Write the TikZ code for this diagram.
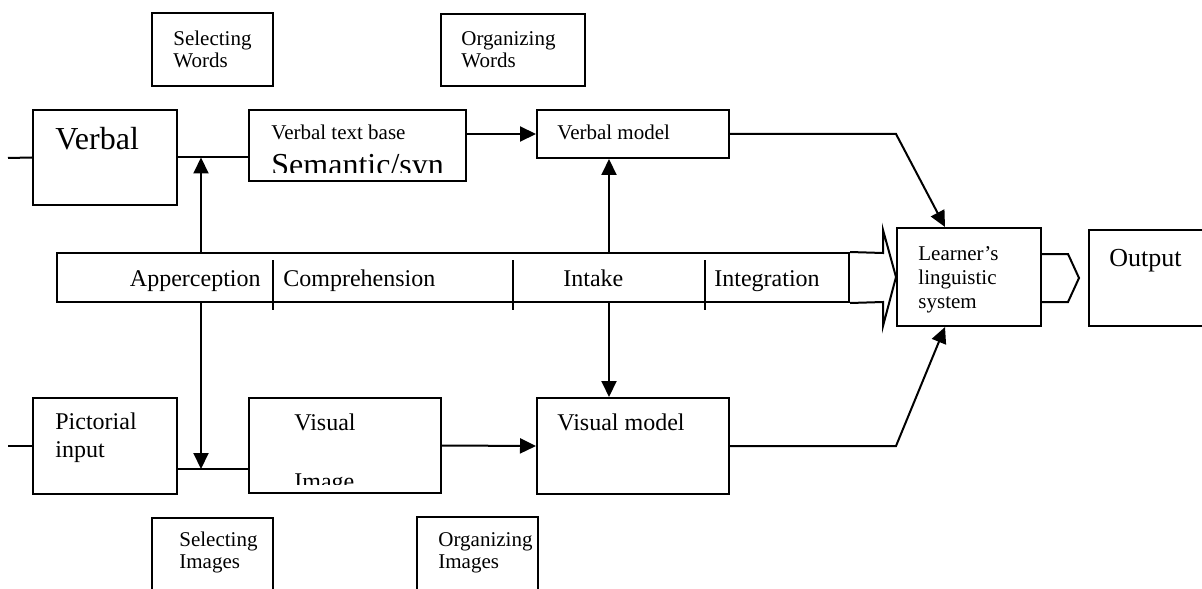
\documentclass[tikz,border=0pt]{standalone}
\usepackage{fontspec}
\setmainfont{Liberation Serif}
\usetikzlibrary{arrows.meta,fit}
\tikzset{
  cbox/.style={draw,line width=1pt,inner sep=0pt},
  ctext/.style={anchor=base west,inner sep=0pt,align=left,font=\fontsize{12}{13.8}\selectfont},
  csmall/.style={ctext,font=\fontsize{10.5}{11}\selectfont},
  cbig/.style={ctext,font=\fontsize{16}{18}\selectfont},
  cline/.style={line width=1pt},
  carrow/.style={cline,-{Triangle[length=8pt,width=7.5pt]}}
}

\begin{document}
\begin{tikzpicture}[x=0.5pt,y=-0.5pt]
  \useasboundingbox (0,0) rectangle (1202,588);
  % boxes
  \node[cbox,fit={(152,13) (273,86)}] (selw) {};
  \node[cbox,fit={(441,14) (585,86)}] (orgw) {};
  \node[cbox,fit={(33,110) (177,205)}] (verbal) {};
  \node[cbox,fit={(249,110) (466,181)}] (vbase) {};
  \node[cbox,fit={(537,110) (729,158)}] (vmodel) {};
  \node[cbox,fit={(57,253) (849,302)}] (strip) {};
  \node[cbox,fit={(897,228) (1041,326)}] (learner) {};
  \node[cbox,fit={(1089,230) (1215,326)}] (output) {};
  \node[cbox,fit={(33,398) (177,494)}] (pict) {};
  \node[cbox,fit={(249,398) (441,493)}] (vimage) {};
  \node[cbox,fit={(537,398) (729,494)}] (smodel) {};
  \node[cbox,fit={(152,518) (273,600)}] (seli) {};
  \node[cbox,fit={(417,517) (538,600)}] (orgi) {};
  % texts (multi-line: base is the last line)
  \node[csmall] (selwt) at (173,68) {Selecting\\Words};
  \node[csmall] (orgwt) at (461,68) {Organizing\\Words};
  \node[cbig] (verbalt) at (55,150) {Verbal};
  \node[csmall] (vbaset) at (271,140) {Verbal text base};
  \begin{scope}
    \clip (249,110) rectangle (466,173);
    \node[cbig] (semt) at (271,176) {Semantic/syn};
  \end{scope}
  \node[csmall] (vmodelt) at (557,140) {Verbal model};
  \node[ctext,anchor=base east] (appt) at (261,286) {Apperception};
  \node[ctext] (compt) at (283,286) {Comprehension};
  \node[ctext] (intt) at (563,286) {Intake};
  \node[ctext] (integt) at (714,286) {Integration};
  \node[ctext,font=\fontsize{10.5}{12}\selectfont] (learnert) at (918,308) {Learner’s\\linguistic\\system};
  \node[ctext,font=\fontsize{13}{15}\selectfont] (outputt) at (1109,266) {Output};
  \node[ctext] (pictt) at (55,457) {Pictorial\\input};
  \node[ctext] (vimaget) at (294,430) {Visual};
  \begin{scope}
    \clip (249,398) rectangle (441,484);
    \node[ctext] (imaget) at (294,489) {Image};
  \end{scope}
  \node[ctext] (smodelt) at (557,430) {Visual model};
  \node[csmall] (selit) at (179,568) {Selecting\\Images};
  \node[csmall] (orgit) at (438,568) {Organizing\\Images};
  % strip
  \foreach \x in {273,513,705} \draw[cline] (\x,260) -- (\x,310);
  \draw[cline] (strip.north east) -- (883,253) -- (883,230) -- (learner.west) -- (883,326) -- (883,302) -- (strip.south east);
  \draw[cline] (1041,254) -- (1068,254) -- (1079,278) -- (1068,302) -- (1041,302);
  % connectors
  \coordinate (vin) at (8,158);
  \coordinate (pin) at (8,446);
  \coordinate (apx) at (201,0);
  \coordinate (inx) at (609,0);
  \coordinate (lnx) at (945,0);
  \coordinate (pjoin) at (201,469);
  \draw[cline] (vin) -- (verbal.west);
  \draw[cline] (verbal.east) -- (verbal.east -| vbase.west);
  \draw[carrow] (apx |- strip.north) -- (apx |- verbal.east);
  \draw[carrow] (vbase.east |- vmodel.west) -- (vmodel.west);
  \draw[carrow] (inx |- strip.north) -- (inx |- vmodel.south);
  \draw[carrow] (vmodel.east) -- (vmodel.east -| learner.west) -- (lnx |- learner.north);
  \draw[cline] (pin) -- (pict.west);
  \draw[carrow] (apx |- strip.south) -- (pjoin);
  \draw[cline] (pjoin -| pict.east) -- (pjoin -| vimage.west);
  \draw[carrow] (vimage.east) -- (smodel.west);
  \draw[carrow] (inx |- strip.south) -- (inx |- smodel.north);
  \draw[carrow] (smodel.east) -- (smodel.east -| learner.west) -- (lnx |- learner.south);
\end{tikzpicture}
\end{document}
